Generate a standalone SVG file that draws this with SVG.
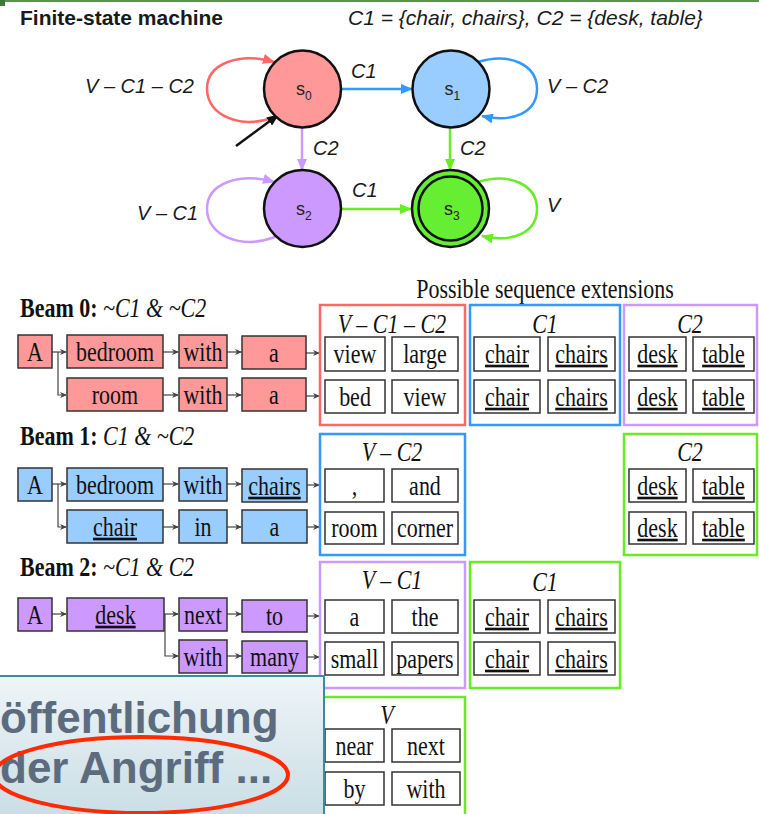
<svg xmlns="http://www.w3.org/2000/svg" width="759" height="814" viewBox="0 0 759 814">
  <defs>
    <style>
      .sans{font-family:"Liberation Sans",Arial,sans-serif;fill:#1a1a1a}
      .lab{font-family:"Liberation Sans",Arial,sans-serif;font-style:italic;font-size:20px;fill:#1a1a1a}
      .st{stroke:#111;stroke-width:2.5}
      .sl{font-family:"Liberation Sans",Arial,sans-serif;font-size:18px;fill:#222}
      .ss{font-size:12px}
      .t{font-family:"Liberation Serif","Times New Roman",serif;font-size:22px;text-anchor:middle;fill:#111}
      .hd{font-family:"Liberation Serif","Times New Roman",serif;font-size:22px;fill:#111}
      .t,.hd{transform-box:fill-box;transform-origin:50% 50%;transform:scaleY(1.2)}
      .it{font-style:italic}
      .u{text-decoration:underline}
      .tk{stroke:#333;stroke-width:1.5}
      .r{fill:#ff9999}.b{fill:#99ccff}.p{fill:#cc99ff}
      .ex{fill:#fff;stroke:#333;stroke-width:1.5}
      .fr{fill:none;stroke-width:2.5}
      .sm{stroke:#444;stroke-width:1.2;fill:none;marker-end:url(#ah)}
      .cap{font-family:"Liberation Sans",Arial,sans-serif;font-size:44px;font-weight:bold;fill:#5c6b7d}
    </style>
    <marker id="mr" markerWidth="12" markerHeight="10" refX="11" refY="5" orient="auto" markerUnits="userSpaceOnUse"><path d="M0,0 L12,5 L0,10 Z" fill="#ff6666"/></marker>
    <marker id="mb" markerWidth="12" markerHeight="10" refX="11" refY="5" orient="auto" markerUnits="userSpaceOnUse"><path d="M0,0 L12,5 L0,10 Z" fill="#3399ff"/></marker>
    <marker id="mp" markerWidth="12" markerHeight="10" refX="11" refY="5" orient="auto" markerUnits="userSpaceOnUse"><path d="M0,0 L12,5 L0,10 Z" fill="#cc99ff"/></marker>
    <marker id="mg" markerWidth="12" markerHeight="10" refX="11" refY="5" orient="auto" markerUnits="userSpaceOnUse"><path d="M0,0 L12,5 L0,10 Z" fill="#66ee22"/></marker>
    <marker id="mk" markerWidth="12" markerHeight="10" refX="11" refY="5" orient="auto" markerUnits="userSpaceOnUse"><path d="M0,0 L12,5 L0,10 Z" fill="#111"/></marker>
    <marker id="ah" markerWidth="7" markerHeight="6" refX="6" refY="3" orient="auto" markerUnits="userSpaceOnUse"><path d="M0,0 L7,3 L0,6 L2,3 Z" fill="#444"/></marker>
    <linearGradient id="ov" x1="0" y1="0" x2="0" y2="1">
      <stop offset="0" stop-color="#eef5f8"/>
      <stop offset="1" stop-color="#cadde5"/>
    </linearGradient>
  </defs>

  <rect width="759" height="814" fill="#fff"/>
  <!-- slide frame edge -->
  <rect x="0" y="0" width="759" height="2" fill="#5b9450"/>
  <rect x="0" y="0" width="5" height="6" fill="#3f7a3a"/>

  <!-- headings -->
  <text class="sans" x="20" y="25" font-size="21" font-weight="bold">Finite-state machine</text>
  <text class="sans" x="348" y="25" font-size="21" font-style="italic">C1 = {chair, chairs}, C2 = {desk, table}</text>

  <!-- state machine transitions -->
  <g id="transitions" fill="none" stroke-width="2.5">
    <path d="M275,117 C240,130 207,115 207,89 C207,63 240,52 274,62" stroke="#ff6666" marker-end="url(#mr)"/>
    <line x1="342" y1="89" x2="412" y2="89" stroke="#3399ff" marker-end="url(#mb)"/>
    <path d="M478,62 C510,52 537,65 537,89 C537,113 512,123 482,116" stroke="#3399ff" marker-end="url(#mb)"/>
    <line x1="236" y1="146" x2="278" y2="115" stroke="#111" marker-end="url(#mk)"/>
    <line x1="302" y1="128" x2="302" y2="170" stroke="#cc99ff" marker-end="url(#mp)"/>
    <line x1="450" y1="128" x2="450" y2="170" stroke="#66ee22" marker-end="url(#mg)"/>
    <path d="M275,237 C240,250 207,235 207,209 C207,183 240,172 274,182" stroke="#cc99ff" marker-end="url(#mp)"/>
    <line x1="342" y1="209" x2="411" y2="209" stroke="#66ee22" marker-end="url(#mg)"/>
    <path d="M478,182 C510,172 537,185 537,209 C537,233 512,243 482,236" stroke="#66ee22" marker-end="url(#mg)"/>
  </g>
  <g id="transition-labels">
    <text class="lab" x="85" y="93">V – C1 – C2</text>
    <text class="lab" x="351" y="78">C1</text>
    <text class="lab" x="547" y="93">V – C2</text>
    <text class="lab" x="313" y="155">C2</text>
    <text class="lab" x="460" y="155">C2</text>
    <text class="lab" x="137" y="220">V – C1</text>
    <text class="lab" x="352" y="197">C1</text>
    <text class="lab" x="547" y="212">V</text>
  </g>

  <!-- states -->
  <g id="s0"><circle cx="302.5" cy="89" r="38.5" fill="#ff9999" class="st"/><text class="sl" x="296" y="95">s<tspan class="ss" dy="5">0</tspan></text></g>
  <g id="s1"><circle cx="451" cy="89" r="38.5" fill="#99ccff" class="st"/><text class="sl" x="444.5" y="95">s<tspan class="ss" dy="5">1</tspan></text></g>
  <g id="s2"><circle cx="302.5" cy="208.5" r="38.5" fill="#cc99ff" class="st"/><text class="sl" x="296" y="215">s<tspan class="ss" dy="5">2</tspan></text></g>
  <g id="s3"><circle cx="450.5" cy="208.5" r="38.5" fill="#66ee33" class="st"/><circle cx="450.5" cy="208.5" r="32" fill="none" class="st"/><text class="sl" x="444" y="215">s<tspan class="ss" dy="5">3</tspan></text></g>

  <!-- beam search section -->
  <text class="t" x="545" y="296">Possible sequence extensions</text>

  <text class="hd" x="20" y="315"><tspan font-weight="bold">Beam 0:</tspan><tspan class="it"> ~C1 &amp; ~C2</tspan></text>
  <text class="hd" x="20" y="443"><tspan font-weight="bold">Beam 1:</tspan><tspan class="it"> C1 &amp; ~C2</tspan></text>
  <text class="hd" x="20" y="574"><tspan font-weight="bold">Beam 2:</tspan><tspan class="it"> ~C1 &amp; C2</tspan></text>

  <!-- token links -->
  <g id="links">
    <line class="sm" x1="52" y1="352" x2="66" y2="352"/>
    <path class="sm" d="M58,352 V395 H66"/>
    <line class="sm" x1="163" y1="352" x2="178" y2="352"/>
    <line class="sm" x1="227" y1="352" x2="241" y2="352"/>
    <line class="sm" x1="306" y1="353" x2="319" y2="353"/>
    <line class="sm" x1="163" y1="395" x2="178" y2="395"/>
    <line class="sm" x1="227" y1="395" x2="241" y2="395"/>
    <line class="sm" x1="306" y1="396" x2="319" y2="396"/>

    <line class="sm" x1="52" y1="484" x2="66" y2="484"/>
    <path class="sm" d="M58,484 V527 H66"/>
    <line class="sm" x1="163" y1="484" x2="178" y2="484"/>
    <line class="sm" x1="227" y1="484" x2="241" y2="484"/>
    <line class="sm" x1="307" y1="485" x2="319" y2="485"/>
    <line class="sm" x1="163" y1="527" x2="178" y2="527"/>
    <line class="sm" x1="227" y1="527" x2="241" y2="527"/>
    <line class="sm" x1="307" y1="527" x2="319" y2="527"/>

    <line class="sm" x1="52" y1="614" x2="66" y2="614"/>
    <line class="sm" x1="163" y1="614" x2="178" y2="614"/>
    <path class="sm" d="M165,614 V656 H178"/>
    <line class="sm" x1="227" y1="614" x2="241" y2="614"/>
    <line class="sm" x1="307" y1="616" x2="319" y2="616"/>
    <line class="sm" x1="227" y1="656" x2="241" y2="656"/>
    <line class="sm" x1="307" y1="657" x2="319" y2="657"/>
  </g>

  <!-- beam 0 tokens -->
  <g id="b0-A"><rect class="tk r" x="18" y="335" width="34" height="33"/><text class="t" x="35" y="359">A</text></g>
  <g id="b0-bedroom"><rect class="tk r" x="67" y="335" width="96" height="33"/><text class="t" x="115" y="359">bedroom</text></g>
  <g id="b0-with1"><rect class="tk r" x="179" y="335" width="48" height="33"/><text class="t" x="203" y="359">with</text></g>
  <g id="b0-a1"><rect class="tk r" x="242" y="336" width="64" height="33"/><text class="t" x="274" y="360">a</text></g>
  <g id="b0-room"><rect class="tk r" x="67" y="378" width="96" height="33"/><text class="t" x="115" y="402">room</text></g>
  <g id="b0-with2"><rect class="tk r" x="179" y="378" width="48" height="33"/><text class="t" x="203" y="402">with</text></g>
  <g id="b0-a2"><rect class="tk r" x="242" y="378" width="64" height="33"/><text class="t" x="274" y="402">a</text></g>

  <!-- beam 0 extensions -->
  <g id="b0-other">
    <rect class="fr" x="320" y="305" width="145" height="120" stroke="#ff6666"/>
    <text class="t it" x="392" y="331">V – C1 – C2</text>
    <rect class="ex" x="325" y="337" width="60" height="34"/><text class="t" x="355" y="361">view</text>
    <rect class="ex" x="392" y="337" width="66" height="34"/><text class="t" x="425" y="361">large</text>
    <rect class="ex" x="325" y="380" width="60" height="33"/><text class="t" x="355" y="404">bed</text>
    <rect class="ex" x="392" y="380" width="66" height="33"/><text class="t" x="425" y="404">view</text>
  </g>
  <g id="b0-c1">
    <rect class="fr" x="470" y="305" width="150" height="120" stroke="#3399ff"/>
    <text class="t it" x="545" y="331">C1</text>
    <rect class="ex" x="474" y="337" width="66" height="34"/><text class="t u" x="507" y="361">chair</text>
    <rect class="ex" x="548" y="337" width="67" height="34"/><text class="t u" x="581.5" y="361">chairs</text>
    <rect class="ex" x="474" y="380" width="66" height="33"/><text class="t u" x="507" y="404">chair</text>
    <rect class="ex" x="548" y="380" width="67" height="33"/><text class="t u" x="581.5" y="404">chairs</text>
  </g>
  <g id="b0-c2">
    <rect class="fr" x="624" y="305" width="133" height="120" stroke="#cc99ff"/>
    <text class="t it" x="690" y="331">C2</text>
    <rect class="ex" x="629" y="337" width="57" height="34"/><text class="t u" x="657.5" y="361">desk</text>
    <rect class="ex" x="693" y="337" width="61" height="34"/><text class="t u" x="723.5" y="361">table</text>
    <rect class="ex" x="629" y="380" width="57" height="33"/><text class="t u" x="657.5" y="404">desk</text>
    <rect class="ex" x="693" y="380" width="61" height="33"/><text class="t u" x="723.5" y="404">table</text>
  </g>

  <!-- beam 1 tokens -->
  <g id="b1-A"><rect class="tk b" x="18" y="468" width="34" height="33"/><text class="t" x="35" y="492">A</text></g>
  <g id="b1-bedroom"><rect class="tk b" x="67" y="468" width="96" height="33"/><text class="t" x="115" y="492">bedroom</text></g>
  <g id="b1-with"><rect class="tk b" x="179" y="468" width="48" height="33"/><text class="t" x="203" y="492">with</text></g>
  <g id="b1-chairs"><rect class="tk b" x="242" y="469" width="65" height="33"/><text class="t u" x="274.5" y="493">chairs</text></g>
  <g id="b1-chair"><rect class="tk b" x="67" y="510" width="96" height="33"/><text class="t u" x="115" y="534">chair</text></g>
  <g id="b1-in"><rect class="tk b" x="179" y="510" width="48" height="33"/><text class="t" x="203" y="534">in</text></g>
  <g id="b1-a"><rect class="tk b" x="242" y="510" width="65" height="33"/><text class="t" x="274.5" y="534">a</text></g>

  <!-- beam 1 extensions -->
  <g id="b1-other">
    <rect class="fr" x="320" y="434" width="145" height="121" stroke="#3399ff"/>
    <text class="t it" x="392" y="459">V – C2</text>
    <rect class="ex" x="325" y="469" width="59" height="33"/><text class="t" x="354.5" y="493">,</text>
    <rect class="ex" x="392" y="469" width="66" height="33"/><text class="t" x="425" y="493">and</text>
    <rect class="ex" x="325" y="512" width="59" height="32"/><text class="t" x="354.5" y="535">room</text>
    <rect class="ex" x="392" y="512" width="66" height="32"/><text class="t" x="425" y="535">corner</text>
  </g>
  <g id="b1-c2">
    <rect class="fr" x="624" y="434" width="133" height="121" stroke="#66ee22"/>
    <text class="t it" x="690" y="459">C2</text>
    <rect class="ex" x="629" y="469" width="57" height="33"/><text class="t u" x="657.5" y="493">desk</text>
    <rect class="ex" x="693" y="469" width="61" height="33"/><text class="t u" x="723.5" y="493">table</text>
    <rect class="ex" x="629" y="512" width="57" height="32"/><text class="t u" x="657.5" y="535">desk</text>
    <rect class="ex" x="693" y="512" width="61" height="32"/><text class="t u" x="723.5" y="535">table</text>
  </g>

  <!-- beam 2 tokens -->
  <g id="b2-A"><rect class="tk p" x="18" y="598" width="34" height="33"/><text class="t" x="35" y="622">A</text></g>
  <g id="b2-desk"><rect class="tk p" x="67" y="598" width="97" height="33"/><text class="t u" x="115.5" y="622">desk</text></g>
  <g id="b2-next"><rect class="tk p" x="179" y="598" width="48" height="33"/><text class="t" x="203" y="622">next</text></g>
  <g id="b2-to"><rect class="tk p" x="242" y="600" width="65" height="32"/><text class="t" x="274.5" y="623">to</text></g>
  <g id="b2-with"><rect class="tk p" x="179" y="640" width="48" height="33"/><text class="t" x="203" y="664">with</text></g>
  <g id="b2-many"><rect class="tk p" x="242" y="641" width="65" height="32"/><text class="t" x="274.5" y="664">many</text></g>

  <!-- beam 2 extensions -->
  <g id="b2-other">
    <rect class="fr" x="320" y="562" width="145" height="126" stroke="#cc99ff"/>
    <text class="t it" x="392" y="587">V – C1</text>
    <rect class="ex" x="325" y="600" width="59" height="33"/><text class="t" x="354.5" y="624">a</text>
    <rect class="ex" x="392" y="600" width="66" height="33"/><text class="t" x="425" y="624">the</text>
    <rect class="ex" x="325" y="642" width="59" height="33"/><text class="t" x="354.5" y="666">small</text>
    <rect class="ex" x="392" y="642" width="66" height="33"/><text class="t" x="425" y="666">papers</text>
  </g>
  <g id="b2-c1">
    <rect class="fr" x="470" y="562" width="150" height="126" stroke="#66ee22"/>
    <text class="t it" x="545" y="589">C1</text>
    <rect class="ex" x="474" y="600" width="66" height="33"/><text class="t u" x="507" y="624">chair</text>
    <rect class="ex" x="548" y="600" width="67" height="33"/><text class="t u" x="581.5" y="624">chairs</text>
    <rect class="ex" x="474" y="642" width="66" height="33"/><text class="t u" x="507" y="666">chair</text>
    <rect class="ex" x="548" y="642" width="67" height="33"/><text class="t u" x="581.5" y="666">chairs</text>
  </g>

  <!-- beam 3 extensions -->
  <g id="b3-other">
    <rect class="fr" x="322" y="697" width="143" height="130" stroke="#66ee22"/>
    <text class="t it" x="387" y="722">V</text>
    <rect class="ex" x="325" y="729" width="59" height="33"/><text class="t" x="354.5" y="753">near</text>
    <rect class="ex" x="392" y="729" width="68" height="33"/><text class="t" x="426" y="753">next</text>
    <rect class="ex" x="325" y="772" width="59" height="33"/><text class="t" x="354.5" y="796">by</text>
    <rect class="ex" x="392" y="772" width="68" height="33"/><text class="t" x="426" y="796">with</text>
  </g>

  <!-- caption panel over the lower left corner -->
  <g id="caption">
    <rect x="-2" y="676" width="326" height="142" fill="url(#ov)" stroke="#3b8d99" stroke-width="2"/>
    <text class="cap" x="0" y="733">öffentlichung</text>
    <text class="cap" x="0" y="783">der Angriff ...</text>
    <ellipse cx="141" cy="775" rx="147" ry="38" fill="none" stroke="#ff2a00" stroke-width="4"/>
  </g>
</svg>
